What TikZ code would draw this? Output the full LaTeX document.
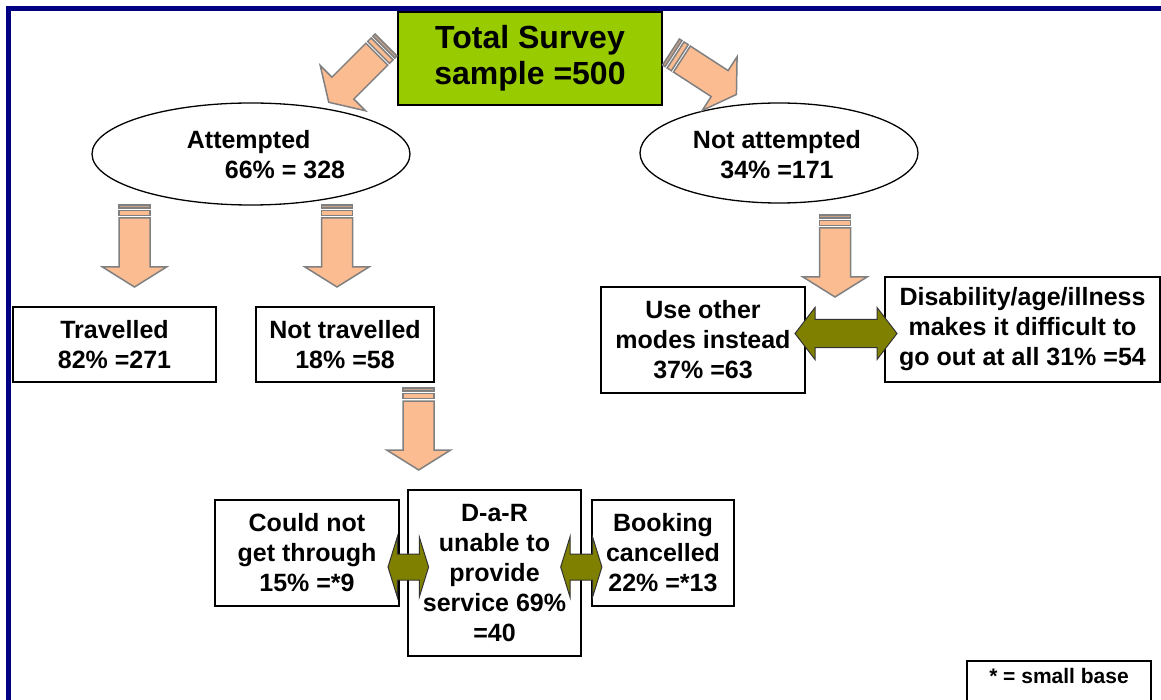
\documentclass[tikz,border=0pt]{standalone}
\usepackage{fontspec}
\setmainfont{Liberation Sans}
\usetikzlibrary{shapes.geometric,calc}
\definecolor{frameblue}{RGB}{0,0,128}
\definecolor{titlegreen}{RGB}{153,204,0}
\definecolor{peach}{RGB}{252,188,146}
\definecolor{arrowgrey}{RGB}{128,128,128}
\definecolor{olivearrow}{RGB}{128,128,0}
% block arrow: #1 tail coordinate, #2 angle, #3 length
\newcommand\blockarrow[3]{%
  \begin{scope}[shift={(#1)}, rotate=#2, barrow]
    \filldraw[fill=peach!55!arrowgrey] (0,-15.5) rectangle (3,15.5);
    \filldraw (5.5,-15.5) rectangle (10.5,15.5);
    \filldraw (13,-15.5) -- ({#3-20},-15.5) -- ({#3-20},-32) -- (#3,0)
      -- ({#3-20},32) -- ({#3-20},15.5) -- (13,15.5) -- cycle;
  \end{scope}}
% double arrow: #1 centre, #2 half length, #3 shaft half, #4 head half, #5 head length
\newcommand\dblarrow[5]{%
  \begin{scope}[shift={(#1)}]
    \filldraw[dblarrowstyle] (-#2,0) -- ({-#2+#5},-#4) -- ({-#2+#5},-#3)
      -- ({#2-#5},-#3) -- ({#2-#5},-#4) -- (#2,0) -- ({#2-#5},#4)
      -- ({#2-#5},#3) -- ({-#2+#5},#3) -- ({-#2+#5},#4) -- cycle;
  \end{scope}}
\begin{document}
\begin{tikzpicture}[x=1pt,y=-1pt,
  barrow/.style={fill=peach, draw=arrowgrey, line width=1.5pt, line join=miter},
  dblarrowstyle/.style={fill=olivearrow, draw=black!80, line width=1pt, line join=miter},
  txt/.style={font=\fontsize{25}{30}\selectfont\bfseries, align=center, inner sep=0pt},
  box/.style={txt, draw, line width=1.5pt, rectangle, fill=white},
  oval/.style={ellipse, draw, line width=1.3pt, inner sep=0pt}]
\useasboundingbox (0,0) rectangle (1161,700);
\clip (0,0) rectangle (1161,700);
% frame
\draw[frameblue, line width=5pt] (8.5,705) -- (8.5,8.5) -- (1165,8.5);
% title
\node[box, fill=titlegreen, minimum width=264, minimum height=93,
  font=\fontsize{32}{36}\selectfont\bfseries] (total) at (530,58.5) {Total Survey\\sample =500};
% ellipses
\node[oval, minimum width=318, minimum height=102] (att) at (251,154) {};
\node[txt, align=left] (attT) at (266,155) {Attempted\\\hspace*{38pt}66\% = 328};
\node[oval, minimum width=278, minimum height=100] (na) at (779,153) {};
\node[txt] (naT) at (777,155) {Not attempted\\34\% =171};
% boxes
\node[box, minimum width=203, minimum height=75] (trav) at (114.5,344.5) {Travelled\\82\% =271};
\node[box, minimum width=178, minimum height=75] (ntrav) at (345,344.5) {Not travelled\\18\% =58};
\node[box, minimum width=204, minimum height=106] (use) at (703,340) {Use other\\modes instead\\37\% =63};
\node[box, minimum width=275, minimum height=105] (dis) at (1022.5,329.5) {Disability/age/illness\\makes it difficult to\\go out at all 31\% =54};
\node[box, minimum width=184, minimum height=106] (cnt) at (307,553) {Could not\\get through\\15\% =*9};
\node[box, minimum width=173, minimum height=166] (dar) at (494.5,573) {D-a-R\\unable to\\provide\\service 69\%\\=40};
\node[box, minimum width=142, minimum height=106] (book) at (663,553) {Booking\\cancelled\\22\% =*13};
\node[box, anchor=north, minimum width=184, inner ysep=0pt, text height=23pt, text depth=25pt,
  font=\fontsize{21}{25}\selectfont\bfseries] (sb) at (1059,660) {* = small base};
% block arrows
\coordinate (a1) at (386,45);
\coordinate (a2) at (671,52);
\coordinate (a3) at (134.5,205);
\coordinate (a4) at (337,205);
\coordinate (a5) at (835,215);
\coordinate (a6) at (418.7,388);
\blockarrow{a1}{-135}{81}
\blockarrow{a2}{-33}{78}
\blockarrow{a3}{-90}{82}
\blockarrow{a4}{-90}{82}
\blockarrow{a5}{-90}{82}
\blockarrow{a6}{-90}{82}
% double arrows
\coordinate (d1) at (846,333.5);
\coordinate (d2) at (408.3,567);
\coordinate (d3) at (581.3,567);
\dblarrow{d1}{51}{14}{26}{20}
\dblarrow{d2}{20.3}{13}{30}{9.3}
\dblarrow{d3}{20.6}{13}{30}{9.3}
\end{tikzpicture}
\end{document}
